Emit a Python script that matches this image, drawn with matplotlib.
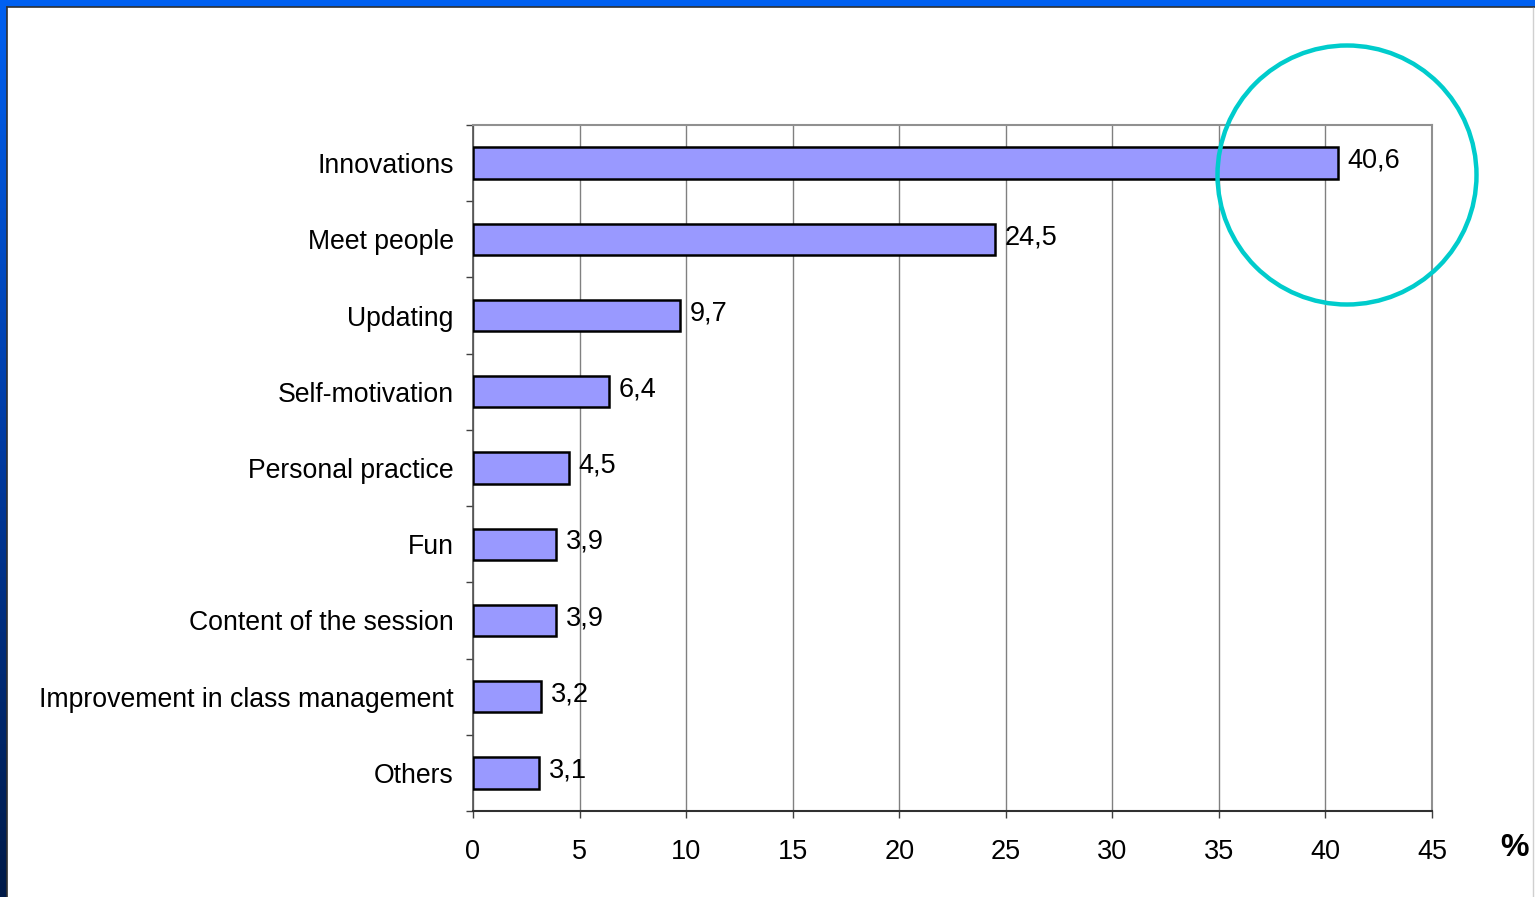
import numpy as np
import matplotlib.pyplot as plt
from matplotlib.patches import Rectangle, Ellipse
from matplotlib.colors import LinearSegmentedColormap

# Reasons given (in %)
categories = ['Innovations', 'Meet people', 'Updating', 'Self-motivation',
              'Personal practice', 'Fun', 'Content of the session',
              'Improvement in class management', 'Others']
values = [40.6, 24.5, 9.7, 6.4, 4.5, 3.9, 3.9, 3.2, 3.1]
value_labels = ['40,6', '24,5', '9,7', '6,4', '4,5', '3,9', '3,9', '3,2', '3,1']
xticks = [0, 5, 10, 15, 20, 25, 30, 35, 40, 45]

plt.rcParams['font.family'] = ['Liberation Sans', 'DejaVu Sans']

W, H = 1535, 897
fig = plt.figure(figsize=(W / 100, H / 100), dpi=100)
fig.patch.set_facecolor('white')

# slide frame: blue band on top, gradient band on the left
fig.add_artist(Rectangle((0, 1 - 7 / H), 1, 7 / H, transform=fig.transFigure,
                         facecolor='#0060f0', edgecolor='none', zorder=0))
grad = LinearSegmentedColormap.from_list('frame', ['#0060f0', '#003aa0', '#001a48'])
gax = fig.add_axes([0, 0, 7 / W, 1 - 7 / H])
gax.imshow(np.linspace(0, 1, 256).reshape(-1, 1), cmap=grad, aspect='auto')
gax.axis('off')
fig.add_artist(plt.Line2D([7.5 / W, 7.5 / W], [0, 1 - 7 / H], transform=fig.transFigure,
                          color='#303030', lw=1.2))
fig.add_artist(plt.Line2D([7.5 / W, 1], [1 - 7.5 / H, 1 - 7.5 / H], transform=fig.transFigure,
                          color='#303030', lw=1.2))
fig.add_artist(plt.Line2D([1533 / W, 1533 / W], [0, 1 - 8 / H], transform=fig.transFigure,
                          color='#d0d0d0', lw=1))

ax = fig.add_axes([473 / W, (H - 811) / H, (1432 - 473) / W, (811 - 125) / H])
y = np.arange(len(categories))
ax.barh(y, values, height=0.41, color='#9999ff', edgecolor='black', linewidth=1.8, zorder=3)
for yi, v, lab in zip(y, values, value_labels):
    ax.text(v + 0.45, yi - 0.03, lab, va='center', ha='left', fontsize=19.5, color='black', zorder=4)

ax.set_xlim(0, 45)
ax.set_ylim(len(categories) - 0.5, -0.5)
ax.set_xticks(xticks)
ax.set_xticklabels([str(t) for t in xticks], fontsize=19.5)
ax.set_yticks(y)
ax.set_yticklabels(categories, fontsize=19.2)
ax.set_yticks(np.arange(-0.5, len(categories)), minor=True)
ax.tick_params(axis='y', which='major', length=0, pad=14)
ax.tick_params(axis='y', which='minor', length=5, width=1, color='#404040', direction='out')
ax.tick_params(axis='x', length=5, width=1, color='#404040', direction='out', pad=15)
ax.grid(axis='x', color='#808080', linewidth=1, zorder=0)
ax.set_axisbelow(True)

for side in ('top', 'right'):
    ax.spines[side].set_color('#909090')
    ax.spines[side].set_linewidth(1.5)
ax.spines['left'].set_color('#505050')
ax.spines['bottom'].set_color('#303030')
ax.spines['left'].set_linewidth(1.2)
ax.spines['bottom'].set_linewidth(1.5)

ax.text(1.071, -0.054, '%', transform=ax.transAxes, fontsize=23, fontweight='bold',
        ha='left', va='center')

# highlight ring around the top bar
ring = Ellipse(((1347 - 473) / 959, (811 - 175) / 686), 259 / 959, 259 / 686,
               transform=ax.transAxes, fill=False, edgecolor='#00cccc', linewidth=3.2,
               clip_on=False, zorder=5)
ax.add_patch(ring)

fig.savefig('out.png', dpi=100)
